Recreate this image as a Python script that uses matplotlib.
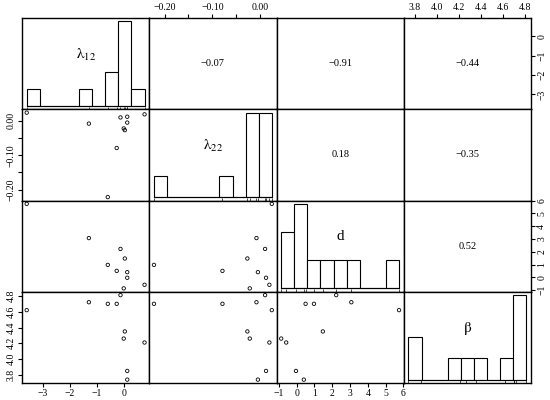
import numpy as np
import matplotlib
matplotlib.use("Agg")
import matplotlib.pyplot as plt

lam12 = [-3.59, -1.29, -0.59, -0.26, -0.12, 0.04, 0.00, 0.77, 0.13, 0.13]
lam22 = [0.024, -0.008, -0.222, -0.079, 0.010, -0.027, -0.022, 0.019, 0.012, -0.005]
d_val = [5.75, 3.07, 0.97, 0.50, 2.22, 1.47, -0.87, -0.59, -0.04, 0.40]
beta = [4.62, 4.72, 4.70, 4.70, 4.81, 4.35, 4.26, 4.21, 3.85, 3.74]

var_labels = [r"$\mathrm{\lambda}_{\mathrm{12}}$", r"$\mathrm{\lambda}_{\mathrm{22}}$",
              "d", r"$\mathrm{\beta}$"]

# correlations printed in the upper panels: (row, col) -> text
corr_text = {
    (0, 1): "\u22120.07", (0, 2): "\u22120.91", (0, 3): "\u22120.44",
    (1, 2): "0.18", (1, 3): "\u22120.35",
    (2, 3): "0.52",
}

# tick positions / labels per variable
ticks = [
    [-3, -2, -1, 0],
    [-0.20, -0.15, -0.10, -0.05, 0.00],
    [-1, 0, 1, 2, 3, 4, 5, 6],
    [3.8, 4.0, 4.2, 4.4, 4.6, 4.8],
]
tick_labels = [
    ["\u22123", "\u22122", "\u22121", "0"],
    ["\u22120.20", "", "\u22120.10", "", "0.00"],
    ["\u22121", "0", "1", "2", "3", "4", "5", "6"],
    ["3.8", "4.0", "4.2", "4.4", "4.6", "4.8"],
]

data = [np.array(v, dtype=float) for v in (lam12, lam22, d_val, beta)]

plt.rcParams.update({
    "font.family": ["Liberation Serif", "DejaVu Serif"],
    "mathtext.fontset": "stix",
    "axes.linewidth": 1.0,
    "xtick.major.size": 3,
    "ytick.major.size": 3,
    "xtick.major.width": 0.8,
    "ytick.major.width": 0.8,
    "xtick.major.pad": 1.5,
    "ytick.major.pad": 1.5,
    "xtick.labelsize": 7,
    "ytick.labelsize": 7,
})


def padded(v):
    lo, hi = v.min(), v.max()
    r = hi - lo
    return lo - 0.04 * r, hi + 0.04 * r


lims = [padded(v) for v in data]

fig = plt.figure(figsize=(5.5, 4), dpi=100)
gs = fig.add_gridspec(4, 4, left=22 / 550, right=531 / 550,
                      top=1 - 18 / 400, bottom=1 - 383 / 400,
                      hspace=0, wspace=0)

n = 4
for i in range(n):
    for j in range(n):
        ax = fig.add_subplot(gs[i, j])
        ax.set_xlim(lims[j])
        ax.tick_params(which="both", direction="out", bottom=False, top=False,
                       left=False, right=False, labelbottom=False,
                       labeltop=False, labelleft=False, labelright=False)

        if i == j:
            # histogram on the diagonal
            x = data[i]
            counts, edges = np.histogram(x, bins=9)
            m = counts.max()
            ax.set_ylim(-0.04 * m, 1.04 * m)
            ax.bar(edges[:-1], counts, width=np.diff(edges), align="edge",
                   facecolor="white", edgecolor="black", linewidth=0.8)
            ax.plot([edges[0], edges[-1]], [0, 0], color="black", lw=0.8)
            ax.vlines(x, -0.04 * m, -0.04 * m + 0.03 * 1.08 * m,
                      color="black", lw=0.5)
            ax.text(0.5, 0.6, var_labels[i], transform=ax.transAxes,
                    ha="center", va="center", fontsize=11)
        elif i > j:
            ax.set_ylim(lims[i])
            ax.scatter(data[j], data[i], s=6, facecolors="none",
                       edgecolors="black", linewidths=0.6)
        else:
            ax.set_ylim(lims[i])
            ax.text(0.5, 0.5, corr_text[(i, j)], transform=ax.transAxes,
                    ha="center", va="center", fontsize=7.5)

        # outer axes in the R pairs() alternating style
        if i == 0 and j % 2 == 1:
            ax.set_xticks(ticks[j])
            ax.set_xticklabels(tick_labels[j])
            ax.tick_params(top=True, labeltop=True)
        if i == n - 1 and j % 2 == 0:
            ax.set_xticks(ticks[j])
            ax.set_xticklabels(tick_labels[j])
            ax.tick_params(bottom=True, labelbottom=True)
        if j == 0 and i % 2 == 1:
            ax.set_yticks(ticks[i])
            ax.set_yticklabels(tick_labels[i], rotation=90, va="center")
            ax.tick_params(left=True, labelleft=True)
        if j == n - 1 and i % 2 == 0:
            ax.set_yticks(ticks[i])
            ax.set_yticklabels(tick_labels[i], rotation=90, va="center")
            ax.tick_params(right=True, labelright=True)

fig.savefig("out.png", dpi=100)
